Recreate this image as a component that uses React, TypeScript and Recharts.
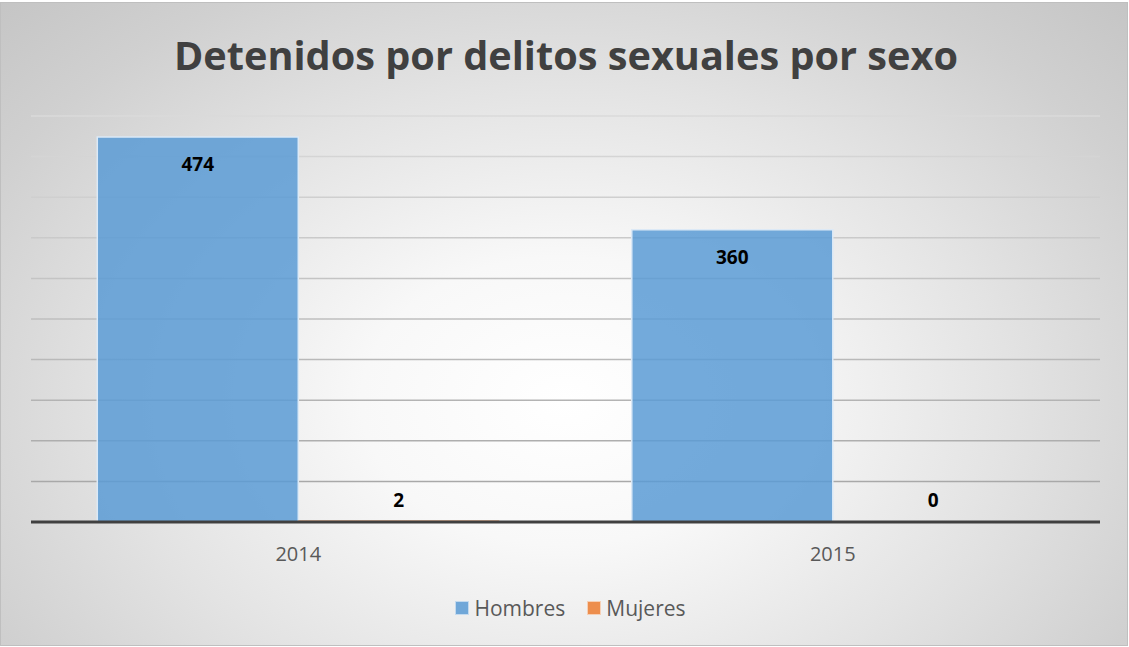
import React from 'react';
import { BarChart, Bar, XAxis, YAxis, CartesianGrid, Legend, LabelList } from 'recharts';

const categories = ['2014', '2015'];
const hombres = [474, 360];
const mujeres = [2, 0];
const yTicks = [0, 50, 100, 150, 200, 250, 300, 350, 400, 450, 500];
const seriesNames = ['Hombres', 'Mujeres'];
const seriesColors = ['#5B9BD5', '#ED7D31'];
const titleText = 'Detenidos por delitos sexuales por sexo';

const data = categories.map((c, i) => ({ year: c, Hombres: hombres[i], Mujeres: mujeres[i] }));

const FONT = '"Open Sans", "Noto Sans", sans-serif';

const renderLabel = (props: any) => {
  const x = Number(props.x);
  const y = Number(props.y);
  const width = Number(props.width);
  const height = Number(props.height);
  const value = props.value;
  const base = y + height;
  const cy = height > 40 ? y + 27 : base - 22;
  return (
    <text
      x={x + width / 2}
      y={cy}
      textAnchor="middle"
      dominantBaseline="central"
      fontFamily={FONT}
      fontWeight={700}
      fontSize={19}
      fill="#000000"
    >
      {value}
    </text>
  );
};

const renderLegend = () => (
  <div
    style={{
      display: 'flex',
      justifyContent: 'center',
      alignItems: 'center',
      fontFamily: FONT,
      fontSize: 21,
      color: '#595959',
      paddingLeft: 10,
      paddingTop: 9,
    }}
  >
    {seriesNames.map((n, i) => (
      <div key={n} style={{ display: 'flex', alignItems: 'center', marginRight: i === 0 ? 22 : 0 }}>
        <span
          style={{
            display: 'inline-block',
            width: 12,
            height: 12,
            background: seriesColors[i],
            opacity: 0.85,
            border: '1px solid rgba(255,255,255,0.6)',
            marginRight: 5,
          }}
        />
        <span>{n}</span>
      </div>
    ))}
  </div>
);

export default function App() {
  return (
    <div
      style={{
        position: 'absolute',
        left: 0,
        top: 2,
        width: 1126,
        height: 642,
        border: '1px solid #bfbfbf',
        background:
          'radial-gradient(ellipse 72% 90% at 50% 62%, #ffffff 0%, #f8f8f8 25%, #e3e3e3 55%, #d0d0d0 80%, #c4c4c4 100%)',
        overflow: 'hidden',
      }}
    >
      <svg
        width={1126}
        height={100}
        style={{ position: 'absolute', left: 0, top: 0, pointerEvents: 'none' }}
      >
        <text
          x={565}
          y={67}
          textAnchor="middle"
          fontFamily={FONT}
          fontWeight={700}
          fontSize={40}
          fill="#404040"
          textLength={784}
          lengthAdjust="spacingAndGlyphs"
        >
          {titleText}
        </text>
      </svg>
      <BarChart
        width={1126}
        height={642}
        data={data}
        margin={{ top: 113, right: 27, left: 30, bottom: 0 }}
        barGap={0}
        barCategoryGap="12.4%"
      >
        <defs>
          <linearGradient id="gridGrad" x1="0" y1="113" x2="0" y2="519" gradientUnits="userSpaceOnUse">
            <stop offset="0%" stopColor="#dadada" />
            <stop offset="100%" stopColor="#a3a3a3" />
          </linearGradient>
        </defs>
        <CartesianGrid vertical={false} stroke="url(#gridGrad)" strokeWidth={1.5} />
        <YAxis hide domain={[0, 500]} ticks={yTicks} />
        <XAxis
          dataKey="year"
          axisLine={{ stroke: '#404040', strokeWidth: 3 }}
          tickLine={false}
          tickSize={6}
          tickMargin={19}
          height={63}
          tick={{ fontFamily: FONT, fontSize: 20, fill: '#595959' }}
        />
        <Legend verticalAlign="bottom" height={60} content={renderLegend} />
        <Bar
          dataKey="Hombres"
          fill={seriesColors[0]}
          fillOpacity={0.85}
          stroke="#dce9f6"
          strokeWidth={1.5}
          isAnimationActive={false}
        >
          <LabelList dataKey="Hombres" content={renderLabel} />
        </Bar>
        <Bar
          dataKey="Mujeres"
          fill={seriesColors[1]}
          fillOpacity={0.85}
          minPointSize={1}
          isAnimationActive={false}
        >
          <LabelList dataKey="Mujeres" content={renderLabel} />
        </Bar>
      </BarChart>
    </div>
  );
}
